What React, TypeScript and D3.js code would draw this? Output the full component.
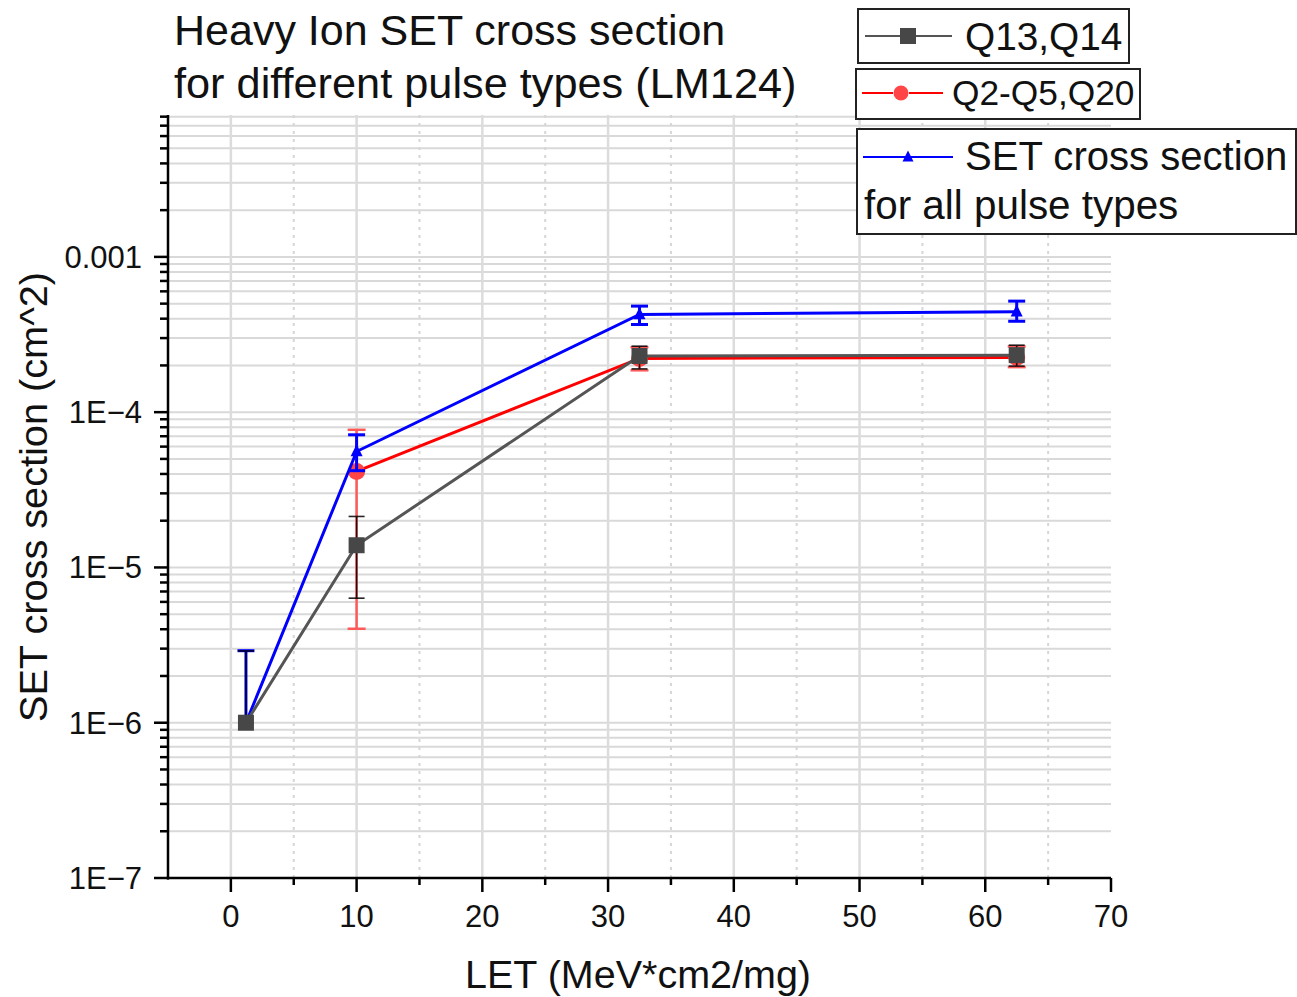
import React from "react";
import * as d3 from "d3";

const W = 1297;
const H = 997;

// ---- data ----
const grayX = [1.2, 10, 32.5, 62.5];
const grayY = [1e-6, 1.39e-5, 2.3e-4, 2.33e-4];
const grayLo = [null, 6.34e-6, 1.9e-4, 1.98e-4];
const grayHi = [2.9e-6, 2.13e-5, 2.66e-4, 2.7e-4];

const redX = [10, 32.5, 62.5];
const redY = [4.15e-5, 2.22e-4, 2.25e-4];
const redLo = [4.03e-6, 1.86e-4, 1.95e-4];
const redHi = [7.7e-5, 2.62e-4, 2.65e-4];

const blueX = [1.2, 10, 32.5, 62.5];
const blueY = [1e-6, 5.58e-5, 4.26e-4, 4.43e-4];
const blueLo = [null, 4.2e-5, 3.67e-4, 3.85e-4];
const blueHi = [2.91e-6, 7.15e-5, 4.82e-4, 5.19e-4];

const xMajorTicks = [0, 10, 20, 30, 40, 50, 60, 70];
const xMinorTicks = [5, 15, 25, 35, 45, 55, 65];
const yMajorTicks = [1e-7, 1e-6, 1e-5, 1e-4, 1e-3];
const yMajorLabels = ["1E\u22127", "1E\u22126", "1E\u22125", "1E\u22124", "0.001"];

const titleLines = ["Heavy Ion SET cross section", "for different pulse types (LM124)"];
const xLabel = "LET (MeV*cm2/mg)";
const yLabel = "SET cross section (cm^2)";

const FONT = "'Liberation Sans', Arial, Helvetica, sans-serif";

export default function App() {
  const x = d3.scaleLinear().domain([-5, 70]).range([168, 1111]);
  const y = d3.scaleLog().domain([1e-7, 0.0082]).range([878, 115]);
  const [y0, y1] = y.range();
  const [x0, x1] = x.range();

  const minorY: number[] = [];
  for (let e = -7; e <= -3; e++) {
    for (let k = 1; k <= 9; k++) {
      const v = k * Math.pow(10, e);
      if (v > 1e-7 * 1.0001 && v <= 0.0082) minorY.push(v);
    }
  }

  const line = (xs: number[], ys: number[]) =>
    d3.line<number>().x((d, i) => x(xs[i])).y((d, i) => y(ys[i]))(ys.map((v) => v)) || "";

  const errBars = (
    xs: number[],
    ys: number[],
    lo: (number | null)[],
    hi: (number | null)[],
    color: string,
    capW: number,
    sw: number,
    opacity = 1
  ) =>
    xs.map((xv, i) => {
      const top = hi[i] != null ? y(hi[i] as number) : y(ys[i]);
      const bot = lo[i] != null ? y(lo[i] as number) : y(ys[i]);
      const cx = x(xv);
      return (
        <g key={"e" + i} stroke={color} strokeWidth={sw} opacity={opacity}>
          <line x1={cx} x2={cx} y1={top} y2={bot} />
          {hi[i] != null && <line x1={cx - capW / 2} x2={cx + capW / 2} y1={top} y2={top} />}
          {lo[i] != null && <line x1={cx - capW / 2} x2={cx + capW / 2} y1={bot} y2={bot} />}
        </g>
      );
    });

  const tri = (cx: number, cy: number, s: number) =>
    `M${cx},${cy - s * 0.6} L${cx + s / 2},${cy + s * 0.4} L${cx - s / 2},${cy + s * 0.4} Z`;

  return (
    <svg
      width={W}
      height={H}
      style={{ position: "absolute", left: 0, top: 0, background: "#fff" }}
      fontFamily={FONT}
    >
      <rect x={0} y={0} width={W} height={H} fill="#fff" />
      {/* grid */}
      <g>
        {minorY.map((v, i) => (
          <line key={"gy" + i} x1={x0} x2={x1} y1={y(v)} y2={y(v)} stroke="#d9d9d9" strokeWidth={2} />
        ))}
        {xMajorTicks
          .filter((v) => v < 70)
          .map((v) => (
            <line key={"gx" + v} x1={x(v)} x2={x(v)} y1={y0} y2={y1} stroke="#dcdcdc" strokeWidth={2.5} />
          ))}
        {xMinorTicks.map((v) => (
          <line
            key={"gxm" + v}
            x1={x(v)}
            x2={x(v)}
            y1={y0}
            y2={y1}
            stroke="#d6d6d6"
            strokeWidth={2}
            strokeDasharray="3,5"
          />
        ))}
      </g>

      {/* red series */}
      <g>
        {errBars(redX, redY, redLo, redHi, "#ff5a5a", 18, 2.5)}
        <path d={line(redX, redY)} fill="none" stroke="#ff0000" strokeWidth={3} />
        {redX.map((xv, i) => (
          <circle key={"rc" + i} cx={x(xv)} cy={y(redY[i])} r={8.5} fill="#ff4545" />
        ))}
      </g>
      {/* blue series */}
      <g>
        <path d={line(blueX, blueY)} fill="none" stroke="#0000ff" strokeWidth={3} />
        {blueX.map((xv, i) => (
          <path key={"bt" + i} d={tri(x(xv), y(blueY[i]), 12)} fill="#0000ff" />
        ))}
        {errBars(blueX, blueY, blueLo, blueHi, "#0000ff", 17, 3)}
      </g>
      {/* gray series */}
      <g>
        <path d={line(grayX, grayY)} fill="none" stroke="#555555" strokeWidth={3} />
        {errBars(grayX, grayY, grayLo, grayHi, "#000000", 16, 1.6, 0.85)}
        {grayX.map((xv, i) => (
          <rect key={"gs" + i} x={x(xv) - 8} y={y(grayY[i]) - 8} width={16} height={16} fill="#474747" />
        ))}
      </g>

      {/* axes */}
      <g stroke="#000" strokeWidth={2.5}>
        <line x1={x0} x2={x0} y1={y1} y2={y0 + 1.5} />
        <line x1={x0 - 1.2} x2={x1} y1={y0} y2={y0} />
        {yMajorTicks.map((v) => (
          <line key={"ymt" + v} x1={x0 - 14} x2={x0 + 1} y1={y(v)} y2={y(v)} />
        ))}
        {minorY
          .filter((v) => !yMajorTicks.some((m) => Math.abs(m - v) / m < 1e-6))
          .map((v, i) => (
            <line key={"ymn" + i} x1={x0 - 8} x2={x0 + 1} y1={y(v)} y2={y(v)} />
          ))}
        {xMajorTicks.map((v) => (
          <line key={"xmt" + v} x1={x(v)} x2={x(v)} y1={y0} y2={y0 + 14} />
        ))}
        {xMinorTicks.map((v) => (
          <line key={"xmn" + v} x1={x(v)} x2={x(v)} y1={y0} y2={y0 + 7} />
        ))}
      </g>

      {/* tick labels */}
      <g fontSize={31} fill="#111">
        {xMajorTicks.map((v) => (
          <text key={"xl" + v} x={x(v)} y={927} textAnchor="middle">
            {v}
          </text>
        ))}
        {yMajorTicks.map((v, i) => (
          <text key={"yl" + v} x={142} y={y(v) + 11} textAnchor="end">
            {yMajorLabels[i]}
          </text>
        ))}
      </g>

      {/* axis titles */}
      <text x={638} y={988} textAnchor="middle" fontSize={39.5} fill="#111">
        {xLabel}
      </text>
      <text
        transform="translate(47,497) rotate(-90)"
        textAnchor="middle"
        fontSize={39.7}
        fill="#111"
      >
        {yLabel}
      </text>

      {/* title */}
      <g fill="#111">
        <text x={174} y={45} fontSize={43}>
          {titleLines[0]}
        </text>
        <text x={174} y={98} fontSize={43.3}>
          {titleLines[1]}
        </text>
      </g>

      {/* legends */}
      <g>
        <rect x={858} y={9} width={271} height={54} fill="#fff" stroke="#222" strokeWidth={2} />
        <line x1={865} x2={952} y1={36} y2={36} stroke="#555" strokeWidth={2} />
        <rect x={900} y={28} width={16} height={16} fill="#474747" />
        <text x={965} y={50} fontSize={38.8} fill="#111">
          Q13,Q14
        </text>

        <rect x={856} y={69} width={284} height={50} fill="#fff" stroke="#222" strokeWidth={2} />
        <line x1={862} x2={943} y1={93} y2={93} stroke="#ff0000" strokeWidth={2} />
        <rect x={893} y={89} width={16} height={8} fill="#fff" />
        <circle cx={901} cy={93} r={7.5} fill="#ff4545" />
        <text x={952} y={105} fontSize={35.3} fill="#111">
          Q2-Q5,Q20
        </text>

        <rect x={857} y={129} width={439} height={105} fill="#fff" stroke="#222" strokeWidth={2} />
        <line x1={863} x2={953} y1={157} y2={157} stroke="#0000ff" strokeWidth={2} />
        <path d={tri(908, 157, 11)} fill="#0000ff" />
        <text x={965} y={170} fontSize={40.1} fill="#111">
          SET cross section
        </text>
        <text x={864} y={219} fontSize={40.4} fill="#111">
          for all pulse types
        </text>
      </g>
    </svg>
  );
}
